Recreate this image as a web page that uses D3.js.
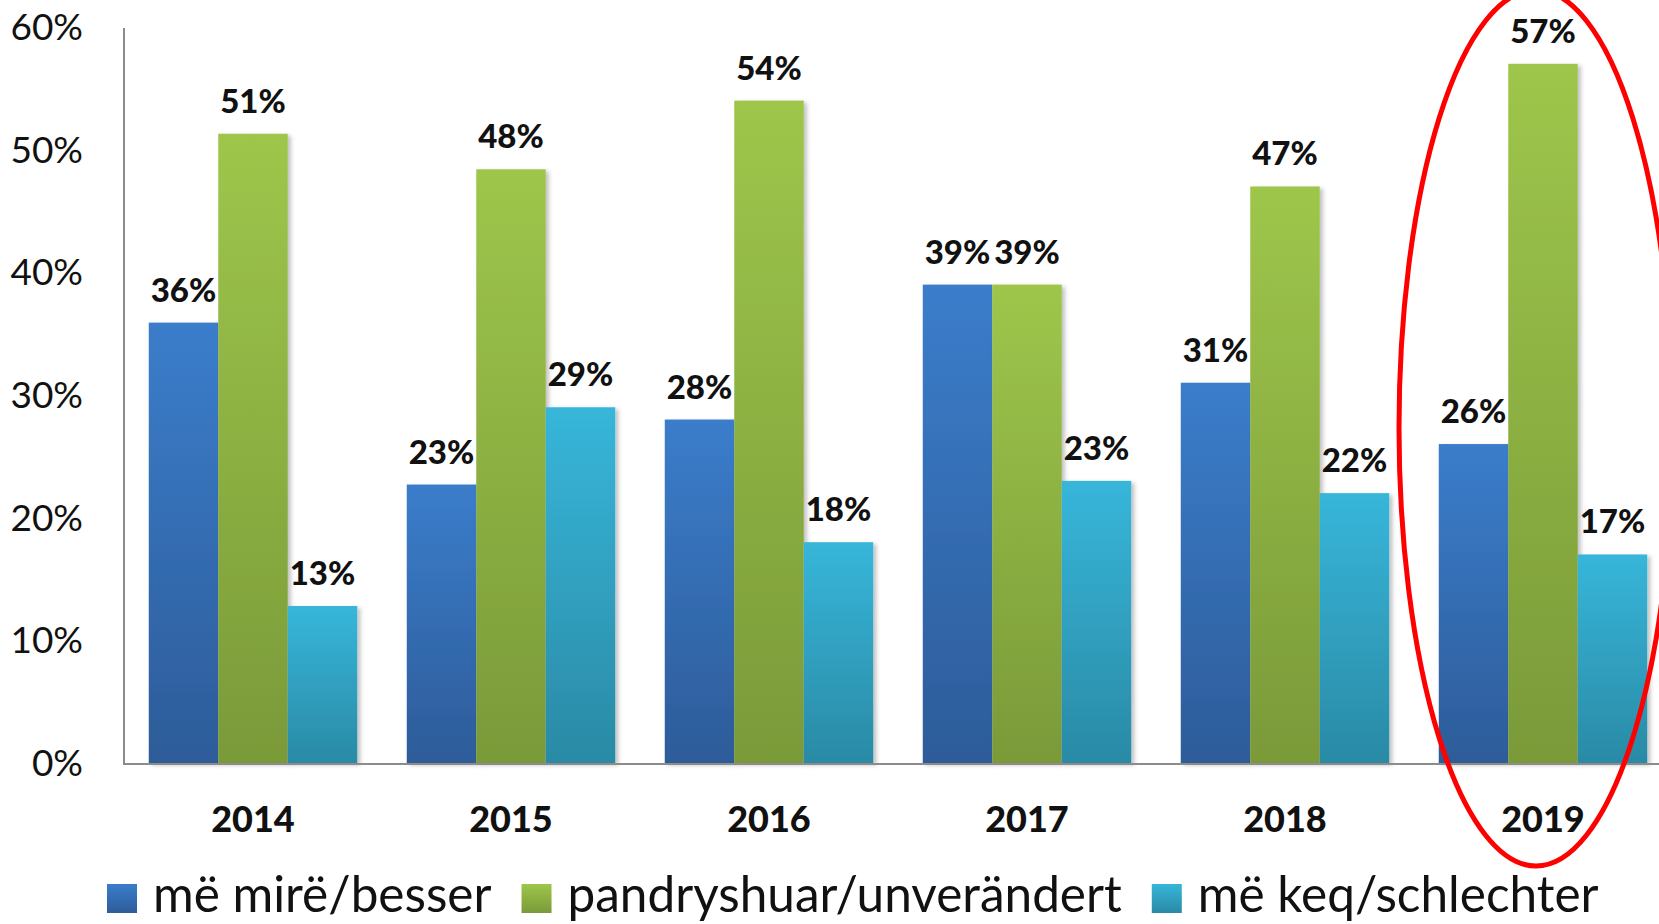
<!DOCTYPE html>
<html>
<head>
<meta charset="utf-8">
<script src="https://cdn.jsdelivr.net/npm/d3@7"></script>
<style>
  html, body { margin: 0; padding: 0; background: #fff; }
  svg { display: block; font-family: Lato, "Open Sans", sans-serif; }
</style>
</head>
<body>
<div id="chart"></div>
<script>
// data (percent)
const years = [`2014`, `2015`, `2016`, `2017`, `2018`, `2019`]
const better = [35.9, 22.7, 28, 39, 31, 26]
const unchanged = [51.3, 48.4, 54, 39, 47, 57]
const worse = [12.8, 29, 18, 23, 22, 17]
const yTicks = [0, 10, 20, 30, 40, 50, 60]
const seriesNames = [`më mirë/besser`, `pandryshuar/unverändert`, `më keq/schlechter`]

// colours (top, bottom of each bar gradient)
const colours = [
  [`#3b7dcb`, `#2d5c99`],
  [`#9ec64b`, `#7a9a39`],
  [`#37b6da`, `#2a8aa5`]
]

const width = 1659, height = 924
const margin = { left: 124, top: 27, bottom: 763 }

const series = [better, unchanged, worse]

const svg = d3.select(`#chart`).append(`svg`)
  .attr(`width`, width)
  .attr(`height`, height)

// gradients + shadow
const defs = svg.append(`defs`)
colours.forEach((c, i) => {
  const g = defs.append(`linearGradient`)
    .attr(`id`, `grad${i}`)
    .attr(`x1`, 0).attr(`y1`, 0).attr(`x2`, 0).attr(`y2`, 1)
  g.append(`stop`).attr(`offset`, `0%`).attr(`stop-color`, c[0])
  g.append(`stop`).attr(`offset`, `100%`).attr(`stop-color`, c[1])
})

const shadow = defs.append(`filter`).attr(`id`, `shadow`)
  .attr(`x`, `-10%`).attr(`y`, `-10%`).attr(`width`, `130%`).attr(`height`, `120%`)
shadow.append(`feDropShadow`)
  .attr(`dx`, 3).attr(`dy`, 2).attr(`stdDeviation`, 2)
  .attr(`flood-color`, `#000`).attr(`flood-opacity`, 0.25)

// scales
const x = d3.scaleBand()
  .domain(years)
  .range([margin.left, margin.left + 6 * 258])
  .paddingInner(0.192)
  .paddingOuter(0.096)

const xSub = d3.scaleBand()
  .domain(d3.range(series.length))
  .range([0, x.bandwidth()])

const y = d3.scaleLinear()
  .domain([0, 60])
  .range([margin.bottom, margin.top])

// y tick labels
svg.append(`g`).selectAll(`text`)
  .data(yTicks)
  .join(`text`)
  .attr(`x`, 83)
  .attr(`y`, d => y(d) + 13)
  .attr(`text-anchor`, `end`)
  .attr(`font-size`, 37)
  .attr(`fill`, `#111`)
  .text(d => d + `%`)

// bars
const groups = svg.append(`g`).selectAll(`g`)
  .data(years)
  .join(`g`)
  .attr(`transform`, d => `translate(${x(d)},0)`)

groups.selectAll(`rect`)
  .data((d, i) => series.map((s, k) => ({ k, v: s[i] })))
  .join(`rect`)
  .attr(`x`, d => xSub(d.k))
  .attr(`y`, d => y(d.v))
  .attr(`width`, xSub.bandwidth())
  .attr(`height`, d => y(0) - y(d.v))
  .attr(`fill`, d => `url(#grad${d.k})`)
  .attr(`filter`, `url(#shadow)`)

// value labels
groups.selectAll(`text`)
  .data((d, i) => series.map((s, k) => ({ k, v: s[i] })))
  .join(`text`)
  .attr(`x`, d => xSub(d.k) + xSub.bandwidth() / 2)
  .attr(`y`, d => y(d.v) - 21)
  .attr(`text-anchor`, `middle`)
  .attr(`font-size`, 33)
  .attr(`font-weight`, 900)
  .attr(`fill`, `#111`)
  .text(d => Math.round(d.v) + `%`)

// axes lines
svg.append(`line`)
  .attr(`x1`, margin.left).attr(`x2`, margin.left)
  .attr(`y1`, margin.top + 1).attr(`y2`, margin.bottom)
  .attr(`stroke`, `#8c8c8c`).attr(`stroke-width`, 2)

svg.append(`line`)
  .attr(`x1`, margin.left - 1).attr(`x2`, width)
  .attr(`y1`, margin.bottom + 1).attr(`y2`, margin.bottom + 1)
  .attr(`stroke`, `#8c8c8c`).attr(`stroke-width`, 2)

// year labels
svg.append(`g`).selectAll(`text`)
  .data(years)
  .join(`text`)
  .attr(`x`, d => x(d) + x.bandwidth() / 2)
  .attr(`y`, 832)
  .attr(`text-anchor`, `middle`)
  .attr(`font-size`, 36)
  .attr(`font-weight`, 900)
  .attr(`fill`, `#111`)
  .text(d => d)

// legend
const legend = svg.append(`g`)
let lx = 107
seriesNames.forEach((name, i) => {
  legend.append(`rect`)
    .attr(`x`, lx).attr(`y`, 884)
    .attr(`width`, 30).attr(`height`, 29)
    .attr(`fill`, `url(#grad${i})`)
  const t = legend.append(`text`)
    .attr(`x`, lx + 46).attr(`y`, 912)
    .attr(`font-size`, 49.5)
    .attr(`fill`, `#111`)
    .text(name)
  lx += 46 + t.node().getComputedTextLength() + 30
})

// red highlight around 2019
svg.append(`ellipse`)
  .attr(`cx`, x(`2019`) + x.bandwidth() / 2 - 7)
  .attr(`cy`, 428)
  .attr(`rx`, 137)
  .attr(`ry`, 438)
  .attr(`fill`, `none`)
  .attr(`stroke`, `#ff0000`)
  .attr(`stroke-width`, 5)
</script>
</body>
</html>
